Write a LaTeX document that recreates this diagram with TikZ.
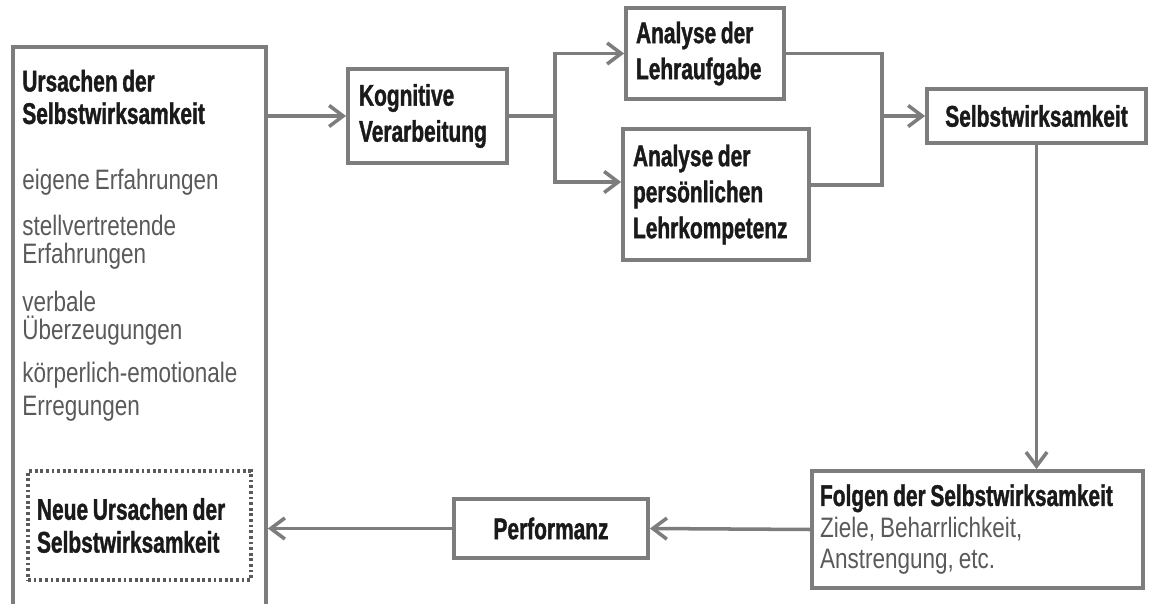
\documentclass[tikz,border=0pt]{standalone}
\usepackage{fontspec}
\usetikzlibrary{arrows.meta,positioning}
\newfontfamily\schmalfont[FakeStretch=0.8, WordSpace={0.8,0,0}]{Liberation Sans}
\newfontfamily\fettfont[FakeStretch=0.7, FakeBold=1.2, WordSpace={0.8,0,0}]{Liberation Sans}
\newcommand\engeabstaende{\spaceskip=0pt\relax\xspaceskip=0pt\relax}
\definecolor{rahmengrau}{HTML}{7D7D7D}
\definecolor{punktgrau}{HTML}{5A5A5A}
\definecolor{textgrau}{HTML}{5A5A5A}
\definecolor{fastschwarz}{HTML}{1A1A1A}
\tikzset{
	kasten/.style={
		draw=rahmengrau,
		line width=2.2pt,
		fill=white,
		inner sep=0pt,
		align=left,
		text=fastschwarz,
		execute at begin node={\engeabstaende},
		font=\fettfont\bfseries\fontsize{17}{20.5}\selectfont
	},
	punktkasten/.style={
		kasten,
		draw=punktgrau,
		line width=2pt,
		dash pattern=on 1.6pt off 1.6pt,
		font=\fettfont\bfseries\fontsize{17}{18.7}\selectfont
	},
	grau/.style={
		inner sep=0pt,
		anchor=west,
		text=textgrau,
		font=\schmalfont\fontsize{16}{18}\selectfont
	},
	linie/.style={draw=rahmengrau, line width=2pt},
	pfeil/.style={linie, -{Straight Barb[length=8pt,width=12pt]}},
}

\begin{document}
\begin{tikzpicture}[x=0.02cm, y=-0.02cm]

\useasboundingbox (0,0) rectangle (1149,604);
\clip (0,0) rectangle (1149,604);
\fill[white] (0,0) rectangle (1149,604);

% linke Spalte: Ursachen
\node [kasten, minimum width=5.06cm, minimum height=11.86cm] (ursachen) at (139.5,343.5) {};
\node [inner sep=0pt, anchor=west, align=left, text=fastschwarz,
	font=\fettfont\bfseries\fontsize{17}{18.5}\selectfont] (kopf) at (22,97)
	{Ursachen der\\Selbstwirksamkeit};

\foreach \t/\y [count=\i] in {eigene Erfahrungen/182, stellvertretende/225,
		Erfahrungen/256, verbale/301, Überzeugungen/331,
		körperlich-emotionale/375, Erregungen/409}
	\node [grau] (liste-\i) at (22,\y) {\t};

\node [punktkasten, text width=4.1cm, inner xsep=0.18cm, minimum height=2.18cm] (neue) at (139.5,525.5)
	{Neue Ursachen der\\Selbstwirksamkeit};

% obere Reihe
\node [kasten, text width=2.74cm, inner xsep=0.22cm, minimum height=1.88cm] (kognitiv) at (427.5,116)
	{Kognitive\\Verarbeitung};
\node [kasten, text width=2.76cm, inner xsep=0.2cm, minimum height=1.82cm] (lehraufgabe) at (705,53.5)
	{Analyse der\\Lehraufgabe};
\node [kasten, text width=3.32cm, inner xsep=0.2cm, minimum height=2.62cm] (lehrkompetenz) at (716,194.5)
	{Analyse der\\persönlichen\\Lehrkompetenz};
\node [kasten, align=center, minimum width=4.38cm, minimum height=1.08cm] (selbst) at (1036.5,116)
	{Selbstwirksamkeit};

% untere Reihe
\node [kasten, text width=6.3cm, inner xsep=0.16cm, minimum height=2.34cm,
	font=\schmalfont\fontsize{16}{17.9}\selectfont] (folgen) at (977.5,529.5)
	{{\fettfont\bfseries\fontsize{17}{17.9}\selectfont Folgen der Selbstwirksamkeit}\\
	 \textcolor{textgrau}{Ziele, Beharrlichkeit,}\\
	 \textcolor{textgrau}{Anstrengung, etc.}};
\node [kasten, align=center, minimum width=3.88cm, minimum height=1.18cm] (performanz) at (551,528.5)
	{Performanz};

% Verbindungen
\draw [pfeil] (kognitiv.west -| ursachen.east) -- (kognitiv.west);
\draw [linie] (kognitiv.east) -- ++(46,0) coordinate (gabel);
\draw [pfeil] (gabel) |- (lehraufgabe.west);
\draw [pfeil] (gabel) |- ([yshift=0.25cm]lehrkompetenz.west);

\coordinate (sammel) at (882,116);
\draw [linie] (lehraufgabe.east) -| (sammel);
\draw [linie] ([yshift=0.19cm]lehrkompetenz.east) -| (sammel);
\draw [pfeil] (sammel) -- (selbst.west);

\draw [pfeil] (selbst.south) -- (selbst.south |- folgen.north);
\draw [pfeil] (folgen.west) -- (performanz.east);
\draw [pfeil] (performanz.west) -- (performanz.west -| ursachen.east);

\end{tikzpicture}
\end{document}
